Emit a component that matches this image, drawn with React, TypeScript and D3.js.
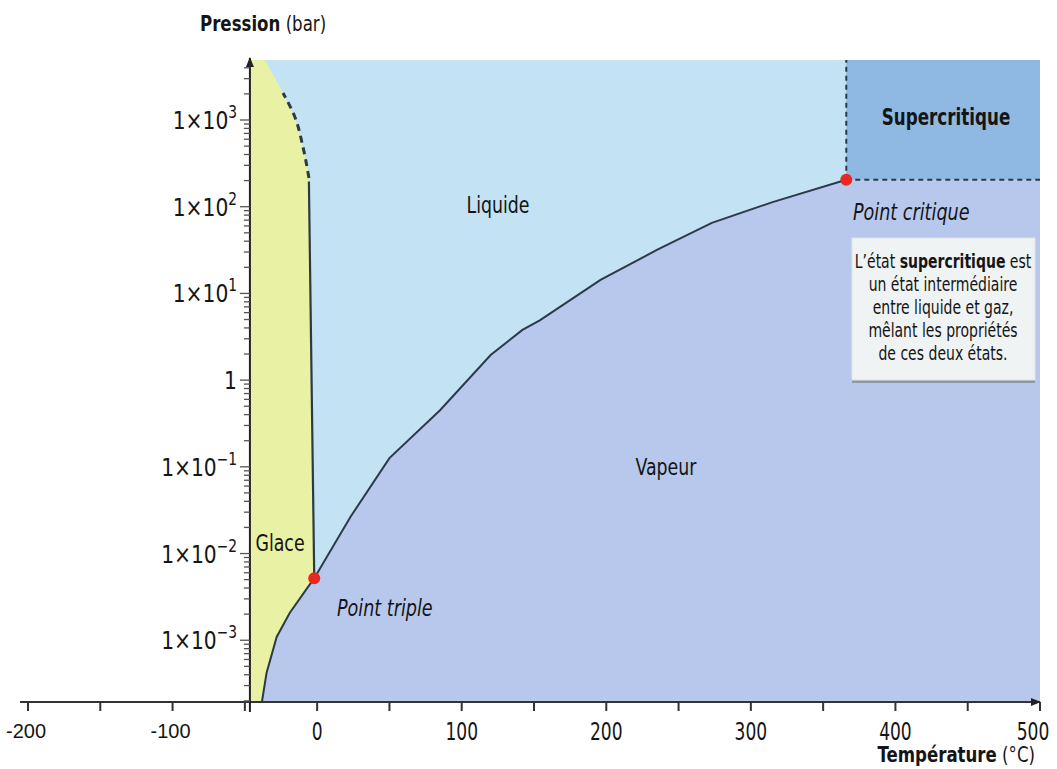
import React from 'react';
import * as d3 from 'd3';

// temperature (°C) / pressure (bar)
const vaporT = [-2, 23, 50, 85, 120, 142, 154, 196, 235, 273, 315, 366];
const vaporP = [0.0052, 0.0264, 0.126, 0.45, 1.95, 3.8, 4.9, 14.3, 31.7, 65, 113, 205];
const sublimT = [-2, -19, -28, -35, -38.2];
const sublimP = [0.0052, 0.00206, 0.00109, 0.00042, 0.000194];
const meltSolidT = [-2, -5.7];
const meltSolidP = [0.0052, 195];
const meltDashT = [-5.7, -9.8, -15.4, -23.6];
const meltDashP = [215, 489, 1083, 2047];
const iceTopT = -36;

const tripleT = -2;
const tripleP = 0.0052;
const critT = 366;
const critP = 205;

const xTicks = d3.range(-200, 501, 50);
const xLabels = [-200, -100, 0, 100, 200, 300, 400, 500];
const yLabels = [1e-3, 1e-2, 1e-1, 1, 1e1, 1e2, 1e3];
const yLabelExp = ['−3', '−2', '−1', '', '1', '2', '3'];

const tMin = -200;
const tMax = 500;
const pMin = 0.000194;
const pMax = 4920;
const yAxisT = -46.5;

const font = "'DejaVu Sans Condensed', 'Liberation Sans Narrow', 'Noto Sans', sans-serif";
const ink = '#2c3a48';

type TProps = {
  x: number;
  y: number;
  size: number;
  sx?: number;
  anchor?: string;
  weight?: string;
  italic?: boolean;
  family?: string;
  children: React.ReactNode;
};

// condensed text: the original uses a narrow face, so squeeze horizontally
const T = ({ x, y, size, sx = 0.84, anchor = 'start', weight, italic, family, children }: TProps) => (
  <text
    transform={`translate(${x},${y}) scale(${sx},1)`}
    fontSize={size}
    textAnchor={anchor}
    fontWeight={weight}
    fontStyle={italic ? 'italic' : undefined}
    fontFamily={family}
    fill="#151515"
  >
    {children}
  </text>
);

const App = () => {
  const x = d3.scaleLinear().domain([tMin, tMax]).range([28, 1040]);
  const y = d3.scaleLog().domain([pMin, pMax]).range([702, 60]);

  const zip = (ts: number[], ps: number[]) => ts.map((t, i) => [t, ps[i]] as [number, number]);
  const line = d3
    .line<[number, number]>()
    .x(d => x(d[0]))
    .y(d => y(d[1]));
  const smooth = d3
    .line<[number, number]>()
    .x(d => x(d[0]))
    .y(d => y(d[1]))
    .curve(d3.curveMonotoneY);

  const vapor = zip(vaporT, vaporP);
  const sublim = zip(sublimT, sublimP);
  const meltSolid = zip(meltSolidT, meltSolidP);
  const meltDash = zip(meltDashT, meltDashP);

  // vapour region: under sublimation + vaporisation curves
  const vaporArea: [number, number][] = [
    ...sublim.slice().reverse(),
    ...vapor.slice(1),
    [tMax, critP],
    [tMax, pMin],
    [sublimT[sublimT.length - 1], pMin],
  ];
  // ice region: left of the melting and sublimation curves
  const iceArea: [number, number][] = [
    [yAxisT, pMax],
    [iceTopT, pMax],
    ...meltDash.slice().reverse(),
    ...meltSolid.slice().reverse(),
    ...sublim.slice(1),
    [yAxisT, pMin],
  ];

  const x0 = x(yAxisT);
  const yBottom = y(pMin);
  const yTop = y(pMax);

  const yTicks = y.ticks();

  const boxLines = [
    ['L’état ', 'supercritique', ' est'],
    ['un état intermédiaire'],
    ['entre liquide et gaz,'],
    ['mêlant les propriétés'],
    ['de ces deux états.'],
  ];

  return (
    <svg width={1057} height={769} style={{ position: 'absolute', left: 0, top: 0, background: '#fff' }} fontFamily={font}>
      <defs>
        <marker id="arr" viewBox="0 0 10 10" refX="9" refY="5" markerWidth="5" markerHeight="5" orient="auto">
          <path d="M0,1 L10,5 L0,9 z" fill="#222" />
        </marker>
      </defs>

      {/* regions */}
      <rect x={x0} y={yTop} width={x(tMax) - x0} height={yBottom - yTop} fill="#c3e2f4" />
      <path d={line(vaporArea) + 'Z'} fill="#b8c8ec" />
      <path d={line(iceArea) + 'Z'} fill="#e9f1a4" />
      <rect x={x(critT)} y={yTop} width={x(tMax) - x(critT)} height={y(critP) - yTop} fill="#8fb9e2" />

      {/* phase boundaries */}
      <path d={line(vapor)!} fill="none" stroke={ink} strokeWidth={2} />
      <path d={line(sublim)!} fill="none" stroke={ink} strokeWidth={2} />
      <path d={line(meltSolid)!} fill="none" stroke={ink} strokeWidth={2.2} />
      <path d={smooth(meltDash)!} fill="none" stroke={ink} strokeWidth={3} strokeDasharray="7 5" />
      <line x1={x(critT)} x2={x(critT)} y1={y(critP)} y2={yTop} stroke={ink} strokeWidth={2} strokeDasharray="5 4" />
      <line x1={x(critT)} x2={x(tMax)} y1={y(critP)} y2={y(critP)} stroke={ink} strokeWidth={2} strokeDasharray="5 4" />

      <circle cx={x(tripleT)} cy={y(tripleP)} r={6} fill="#e8291f" />
      <circle cx={x(critT)} cy={y(critP)} r={6} fill="#e8291f" />

      {/* x axis */}
      <line x1={20} x2={x(tMax)} y1={yBottom} y2={yBottom} stroke="#333" strokeWidth={2} markerEnd="url(#arr)" />
      {xTicks.map(t => (
        <line key={t} x1={x(t)} x2={x(t)} y1={yBottom} y2={yBottom + 9} stroke="#333" strokeWidth={2} />
      ))}
      {xLabels.map(t =>
        t < 0 ? (
          <T key={t} x={x(t) - 2} y={738} size={20} sx={1} anchor="middle" family="'Liberation Sans', Arial, sans-serif">
            {t}
          </T>
        ) : (
          <T key={t} x={x(t) + (t === 500 ? -7 : 0)} y={740} size={25} sx={0.76} anchor="middle">
            {t}
          </T>
        )
      )}
      <T x={1035} y={762} size={21} sx={0.88} anchor="end">
        <tspan fontWeight="bold">Température</tspan> (°C)
      </T>

      {/* y axis */}
      <line x1={x0} x2={x0} y1={yBottom + 10} y2={yTop - 2} stroke="#222" strokeWidth={2} markerEnd="url(#arr)" />
      {yTicks.map((p, i) => {
        const major = Math.abs(Math.log10(p) - Math.round(Math.log10(p))) < 1e-6;
        return (
          <line key={i} x1={x0 - (major ? 10 : 6)} x2={x0} y1={y(p)} y2={y(p)} stroke="#555" strokeWidth={1.3} />
        );
      })}
      {yLabels.map((p, i) => (
        <T key={p} x={237} y={y(p) + 9} size={25} sx={0.9} anchor="end">
          {yLabelExp[i] === '' ? (
            '1'
          ) : (
            <>
              1×10
              <tspan fontSize={17} dy={-11}>
                {yLabelExp[i]}
              </tspan>
            </>
          )}
        </T>
      ))}
      <T x={200} y={31} size={21} sx={0.88}>
        <tspan fontWeight="bold">Pression</tspan> (bar)
      </T>

      {/* labels */}
      <T x={498} y={213} size={23} anchor="middle">Liquide</T>
      <T x={666} y={475} size={23} anchor="middle">Vapeur</T>
      <T x={280} y={551} size={23} anchor="middle">Glace</T>
      <T x={946} y={125} size={23} sx={0.81} anchor="middle" weight="bold">Supercritique</T>
      <T x={853} y={220} size={23} sx={0.85} italic>Point critique</T>
      <T x={337} y={616} size={23} sx={0.85} italic>Point triple</T>

      {/* info box */}
      <rect x={852} y={379} width={183} height={4} fill="#8e99a6" />
      <rect x={852} y={238} width={183} height={142} fill="#eff3f3" stroke="#dde3e6" strokeWidth={1} />
      {boxLines.map((l, i) => (
        <T key={i} x={943} y={268 + i * 23} size={19} sx={0.82} anchor="middle">
          {l.length === 1 ? (
            l[0]
          ) : (
            <>
              {l[0]}
              <tspan fontWeight="bold">{l[1]}</tspan>
              {l[2]}
            </>
          )}
        </T>
      ))}
    </svg>
  );
};

export default App;
